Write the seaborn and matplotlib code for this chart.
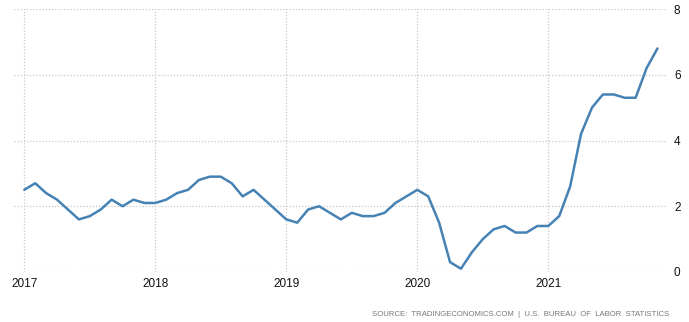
import numpy as np
import pandas as pd
import matplotlib
matplotlib.use("Agg")
import matplotlib.pyplot as plt
import seaborn as sns

# US consumer price inflation, year-over-year %, monthly Jan 2017 - Nov 2021
months = pd.date_range("2017-01-01", "2021-11-01", freq="MS")
rate_2017 = [2.5, 2.7, 2.4, 2.2, 1.9, 1.6, 1.7, 1.9, 2.2, 2.0, 2.2, 2.1]
rate_2018 = [2.1, 2.2, 2.4, 2.5, 2.8, 2.9, 2.9, 2.7, 2.3, 2.5, 2.2, 1.9]
rate_2019 = [1.6, 1.5, 1.9, 2.0, 1.8, 1.6, 1.8, 1.7, 1.7, 1.8, 2.1, 2.3]
rate_2020 = [2.5, 2.3, 1.5, 0.3, 0.1, 0.6, 1.0, 1.3, 1.4, 1.2, 1.2, 1.4]
rate_2021 = [1.4, 1.7, 2.6, 4.2, 5.0, 5.4, 5.4, 5.3, 5.3, 6.2, 6.8]
rates = rate_2017 + rate_2018 + rate_2019 + rate_2020 + rate_2021

year_ticks = [2017, 2018, 2019, 2020, 2021]
y_ticks = [0, 2, 4, 6, 8]
source_text = "SOURCE:  TRADINGECONOMICS.COM  |  U.S.  BUREAU  OF  LABOR  STATISTICS"

df = pd.DataFrame({
    "t": months.year + (months.month - 1) / 12.0,
    "rate": rates,
})

sns.set_style("white")
plt.rcParams["font.family"] = ["Liberation Sans", "DejaVu Sans"]

fig = plt.figure(figsize=(6.89, 3.22), dpi=100)
ax = fig.add_axes([14 / 689, 50 / 322, 653 / 689, 263 / 322])

sns.lineplot(data=df, x="t", y="rate", ax=ax, color="#4682B4", linewidth=1.8)

ax.set_xlim(2017 - 10.3 / 131, 2021 + 118.7 / 131)
ax.set_ylim(0, 8)
ax.set_xticks(year_ticks)
ax.set_xticklabels([str(y) for y in year_ticks])
ax.set_yticks(y_ticks)
ax.set_yticklabels([str(v) for v in y_ticks])
ax.yaxis.tick_right()
ax.tick_params(axis="both", length=0, labelsize=8.5, colors="#111111")
ax.tick_params(axis="x", pad=4)
ax.tick_params(axis="y", pad=5)
ax.set_xlabel("")
ax.set_ylabel("")
ax.grid(True, color="#c8c8c8", linestyle=(0, (1, 1.5)), linewidth=0.9)
for s in ax.spines.values():
    s.set_visible(False)

fig.text(669 / 689, 1 - 314 / 322, source_text, ha="right", va="center",
         fontsize=5.6, color="#777777")

fig.savefig("out.png", dpi=100)
